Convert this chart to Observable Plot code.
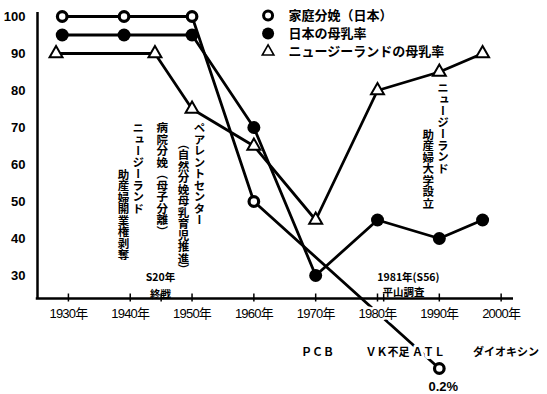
<!DOCTYPE html>
<html><head><meta charset="utf-8">
<script src="https://cdn.jsdelivr.net/npm/d3@7"></script>
<script src="https://cdn.jsdelivr.net/npm/@observablehq/plot@0.6"></script>
<style>
body{margin:0;background:#fff}
#chart{position:relative;width:547px;height:394px}
</style>
</head><body><div id="chart"></div>
<script>
// ---- data ----
const homeYears  = [1929, 1939, 1950, 1960, 1990];
const homeValues = [100, 100, 100, 50, 0.2];
const jpYears    = [1929, 1939, 1950, 1960, 1970, 1980, 1990, 1997];
const jpValues   = [95, 95, 95, 70, 30, 45, 40, 45];
const nzYears    = [1928, 1944, 1950, 1960, 1970, 1980, 1990, 1997];
const nzValues   = [90, 90, 75, 65, 45, 80, 85, 90];
const seriesNames = ["家庭分娩（日本）", "日本の母乳率", "ニュージーランドの母乳率"];
const yTicks = [30, 40, 50, 60, 70, 80, 90, 100];
const xTicks = [1930, 1940, 1950, 1960, 1970, 1980, 1990, 2000];
const xTickLabels = ["1930年", "1940年", "1950年", "1960年", "1970年", "1980年", "1990年", "2000年"];
const extraTicks = [1945, 1981];
const vertNotes = ["ニュージーランド", "助産婦開業権剥奪", "病院分娩（母子分離）", "ペアレントセンター", "（自然分娩母乳育児推進）", "ニュージーランド ", "助産婦大学設立"];
const vertYears = [1941.3, 1938.9, 1945.2, 1951.2, 1948.6, 1990.6, 1988.2];
const vertTops  = [71.4, 58.9, 71.4, 71.4, 67.3, 82.2, 69.7];
const noteTexts = ["S20年", "終戦", "1981年(S56)", "平山調査"];
const noteYears = [1944.9, 1944.9, 1985.0, 1984.2];
const noteValues = [29.5, 24.9, 29.5, 25.4];
const belowTexts = ["ＰＣＢ", "ＶＫ不足 ＡＴＬ", "ダイオキシン"];
const belowYears = [1970.3, 1984.5, 2000.8];
const lastHomeLabel = "0.2%";

// ---- tables ----
const home = homeYears.map((x, i) => ({x, y: homeValues[i]}));
const jp = jpYears.map((x, i) => ({x, y: jpValues[i]}));
const nz = nzYears.map((x, i) => ({x, y: nzValues[i]}));
const xlab = xTicks.map((x, i) => ({x, t: xTickLabels[i]}));
const vnotes = vertNotes.map((t, i) => ({t, x: vertYears[i], y: vertTops[i]}));
const hnotes = noteTexts.map((t, i) => ({t, x: noteYears[i], y: noteValues[i]}));
const bnotes = belowTexts.map((t, i) => ({t, x: belowYears[i]}));

const axisY = 23.8;     // value at which the x axis is drawn (scale break below it)
const below = 0.8026;   // compression of the broken part below the axis
const jpFont = "'Noto Sans CJK JP', sans-serif";
const numFont = "'Liberation Sans', 'Noto Sans CJK JP', sans-serif";
const legX = 1962.3, legTX = 1965.6, legY = [100.3, 95.4, 90.5];

const plot = Plot.plot({
  width: 547, height: 394,
  marginLeft: 37, marginRight: 34, marginTop: 0, marginBottom: 0,
  x: {domain: [1925, 2002], range: [37, 513], axis: null},
  y: {domain: [0, 100], range: [386, 16], axis: null,
      transform: v => v < axisY ? axisY - (axisY - v) * below : v},
  style: {background: "white", color: "black", fontFamily: numFont, overflow: "visible"},
  marks: [
    // axes
    Plot.ruleX([1925], {y1: axisY, y2: 101.1, stroke: "black", strokeWidth: 2.5}),
    Plot.ruleY([axisY], {x1: 1924.8, x2: 2002, stroke: "black", strokeWidth: 2.5}),
    Plot.ruleX([...xTicks, ...extraTicks], {y1: 22.6, y2: 25, stroke: "black", strokeWidth: 1.5}),
    Plot.text(yTicks, {x: 1925, y: d => d, text: d => String(d), dx: -12, textAnchor: "end",
      fontSize: 13, fontWeight: "bold", fontFamily: numFont}),
    // annotations (vertical)
    Plot.text(vnotes, {x: "x", y: "y", text: "t", textAnchor: "start", fontSize: 11.5,
      fontWeight: "bold", fontFamily: jpFont}),
    Plot.text(hnotes, {x: "x", y: "y", text: "t", fontSize: 10.5, fontWeight: "bold", fontFamily: jpFont}),
    // lines
    Plot.line(home, {x: "x", y: "y", stroke: "black", strokeWidth: 2.8}),
    Plot.line(jp, {x: "x", y: "y", stroke: "black", strokeWidth: 2.8}),
    Plot.line(nz, {x: "x", y: "y", stroke: "black", strokeWidth: 2.8}),
    // labels that break the lines
    Plot.text(xlab, {x: "x", y: axisY, text: "t", dy: 15, fontSize: 13, fontFamily: numFont,
      stroke: "white", strokeWidth: 5, fill: "black"}),
    Plot.text(bnotes, {x: "x", y: axisY, text: "t", dy: 54, fontSize: 11, fontWeight: "bold",
      fontFamily: jpFont, stroke: "white", strokeWidth: 6, fill: "black"}),
    // markers
    Plot.dot(nz, {x: "x", y: "y", symbol: "triangle", r: 4.8, fill: "white", stroke: "black", strokeWidth: 2}),
    Plot.dot(jp, {x: "x", y: "y", r: 6.5, fill: "black", stroke: "black", strokeWidth: 0}),
    Plot.dot(home, {x: "x", y: "y", r: 4.8, fill: "white", stroke: "black", strokeWidth: 3.2}),
    Plot.text([home[home.length - 1]], {x: "x", y: "y", text: () => lastHomeLabel, dx: 4, dy: 18,
      fontSize: 13, fontWeight: "bold", fontFamily: numFont}),
    // legend
    Plot.dot([0], {x: legX, y: legY[0], r: 4.5, fill: "white", stroke: "black", strokeWidth: 3}),
    Plot.dot([0], {x: legX, y: legY[1], r: 6, fill: "black"}),
    Plot.dot([0], {x: legX, y: legY[2], symbol: "triangle", r: 4.3, fill: "white", stroke: "black", strokeWidth: 1.6}),
    Plot.text(seriesNames, {x: legTX, y: (d, i) => legY[i], text: d => d, textAnchor: "start",
      fontSize: 13, fontWeight: "bold", fontFamily: jpFont})
  ]
});

// vertical Japanese writing for the vertical notes
const vset = new Set(vertNotes);
plot.querySelectorAll("text").forEach(t => {
  if (vset.has(t.textContent)) {
    t.removeAttribute("y");
    t.style.writingMode = "vertical-rl";
    t.style.textOrientation = "mixed";
  }
});
// condensed tick labels
plot.querySelectorAll("text").forEach(t => {
  if (xTickLabels.includes(t.textContent)) t.style.letterSpacing = "-0.8px";
});
document.getElementById("chart").appendChild(plot);
</script>
</body></html>
